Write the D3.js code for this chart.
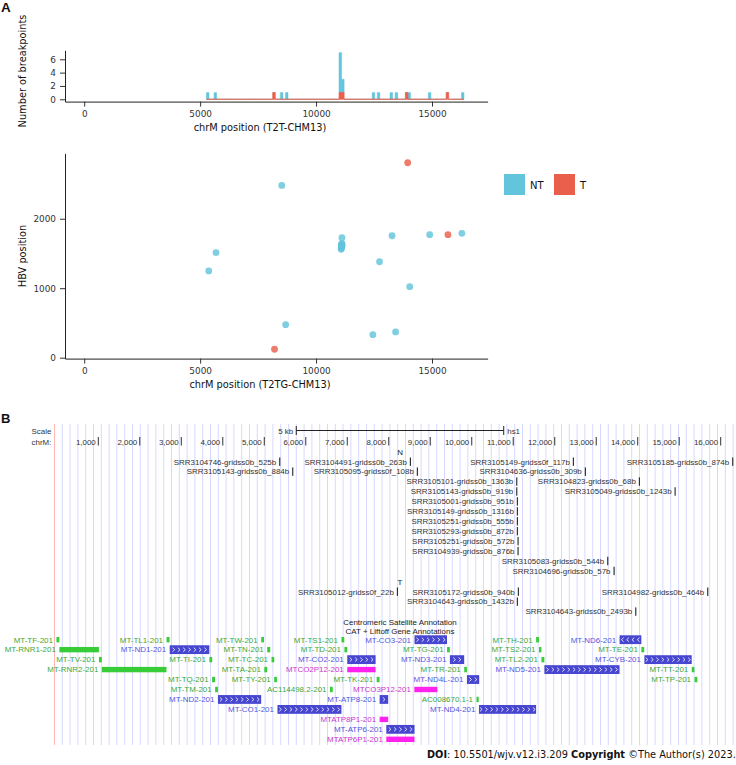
<!DOCTYPE html>
<html><head><meta charset="utf-8">
<script src="https://cdn.jsdelivr.net/npm/d3@7"></script>
<style>body{margin:0;background:#fff} svg{display:block}</style>
</head><body>
<svg id="c" width="736" height="765"></svg>
<script>
// ---------------- DATA ----------------
const groups = ["NT", "T"];
const bpLabel = [
  "SRR3104746-gridss0b_525b","SRR3105143-gridss0b_884b","SRR3104491-gridss0b_263b","SRR3105095-gridss0f_108b",
  "SRR3105101-gridss0b_1363b","SRR3105143-gridss0b_919b","SRR3105001-gridss0b_951b","SRR3105149-gridss0b_1316b",
  "SRR3105251-gridss0b_555b","SRR3105293-gridss0b_872b","SRR3105251-gridss0b_572b","SRR3104939-gridss0b_876b",
  "SRR3105149-gridss0f_117b","SRR3104636-gridss0b_309b","SRR3105083-gridss0b_544b","SRR3104696-gridss0b_57b",
  "SRR3104823-gridss0b_68b","SRR3105049-gridss0b_1243b","SRR3105185-gridss0b_874b",
  "SRR3105012-gridss0f_22b","SRR3105172-gridss0b_940b","SRR3104643-gridss0b_1432b","SRR3104643-gridss0b_2493b",
  "SRR3104982-gridss0b_464b"];
const bpGroup = ["NT","NT","NT","NT","NT","NT","NT","NT","NT","NT","NT","NT","NT","NT","NT","NT","NT","NT","NT",
  "T","T","T","T","T"];
const bpPos = [5372,5685,8520,8688,11084,11084,11098,11098,11098,11098,11115,11115,12448,12737,13277,13429,14039,14900,16289,
  8207,11122,11098,13952,15687];
const bpHbv = [1248,1511,2480,475,1560,1575,1590,1600,1615,1630,1645,1727,331,1381,1755,370,1022,1770,1790,
  121,1620,1605,2806,1770];
const bpLane = [0,1,0,1,2,3,4,5,6,7,8,9,0,1,10,11,2,3,0, 0,0,1,2,0];

const chrMLength = 16569;
const histBinWidth = 110, histBinBoundary = 11100;
const histYTicks = [0,2,4,6];
const posTicks = [0,5000,10000,15000];
const hbvTicks = [0,1000,2000];
const rulerTicks = [1000,2000,3000,4000,5000,6000,7000,8000,9000,10000,11000,12000,13000,14000,15000,16000];
const scaleBarBp = 5000;

const geneName = ["MT-TF-201","MT-RNR1-201","MT-TV-201","MT-RNR2-201","MT-TL1-201","MT-ND1-201","MT-TI-201","MT-TQ-201",
  "MT-TM-201","MT-ND2-201","MT-TW-201","MT-TA-201","MT-TN-201","MT-TC-201","MT-TY-201","MT-CO1-201","MT-TS1-201",
  "MT-TD-201","MT-CO2-201","MTCO2P12-201","AC114498.2-201","MT-TK-201","MT-ATP8-201","MTATP8P1-201","MT-ATP6-201",
  "MTATP6P1-201","MT-CO3-201","MTCO3P12-201","MT-TG-201","MT-ND3-201","MT-TR-201","MT-ND4L-201","AC008670.1-1",
  "MT-ND4-201","MT-TH-201","MT-TS2-201","MT-TL2-201","MT-ND5-201","MT-ND6-201","MT-TE-201","MT-CYB-201","MT-TT-201","MT-TP-201"];
const geneStart = [-9,62,1016,1085,2644,2721,3677,3743,3816,3884,4926,5001,5071,5175,5240,5318,6860,6932,7000,7000,6584,7709,
  7780,7780,7941,7941,8621,8616,9405,9473,9819,9884,10115,10174,11552,11621,11680,11751,13563,14088,14161,15302,15370];
const geneEnd = [61,1015,1084,2643,2718,3676,3745,3814,3883,4925,4993,5069,5143,5240,5305,6859,6928,6999,7683,7683,6650,7778,
  7986,7986,8621,8621,9404,9170,9472,9818,9883,10180,10150,11551,11620,11679,11750,13562,14087,14156,15301,15367,15437];
const geneType = ["nc","nc","nc","nc","nc","pc","nc","nc","nc","pc","nc","nc","nc","nc","nc","pc","nc","nc","pc","ps","nc","nc",
  "pc","ps","pc","ps","pc","ps","nc","pc","nc","pc","nc","pc","nc","nc","nc","pc","pc","nc","pc","nc","nc"];
const geneStrand = ["+","+","+","+","+","+","+","+","+","+","+","+","+","+","+","+","+","+","+","+","+","+","+","+","+","+",
  "+","+","+","+","+","+","+","+","+","+","+","+","-","+","+","+","+"];
const geneLane = [0,1,2,3,0,1,2,4,5,6,0,3,1,2,4,7,0,1,2,3,5,4,6,8,9,10,0,5,1,2,3,4,6,7,0,1,2,3,0,1,2,3,4];

// ---------------- STYLE ----------------
const colGroup = {NT:"#62C5DC", T:"#EA5F4C"};
const geneFill = {nc:"#38cc38", pc:"#4646d0", ps:"#ff22ee"};
const geneText = {nc:"#3aa83a", pc:"#5555dd", ps:"#cc33cc"};
const F1 = "DejaVu Sans", F2 = "Liberation Sans";
const svg = d3.select("#c");
const bp = bpPos.map((p,i)=>({pos:p, hbv:bpHbv[i], g:bpGroup[i], label:bpLabel[i], lane:bpLane[i]}));

// panel letters
svg.append("text").attr("x",1).attr("y",12).text("A").attr("font-family",F2).attr("font-weight","bold").attr("font-size",13.5).attr("fill","#111");
svg.append("text").attr("x",1).attr("y",423).text("B").attr("font-family",F2).attr("font-weight","bold").attr("font-size",13).attr("fill","#111");

// ---------------- A: histogram ----------------
const xlimExp = [0 - 0.05*chrMLength, chrMLength*1.05];
const xA = d3.scaleLinear().domain(xlimExp).range([65, 487.6]);
const yH = d3.scaleLinear().domain([-0.35, 7.35]).range([101.6, 50.3]);

const mn = d3.min(bpPos), mx = d3.max(bpPos);
const lo = histBinBoundary + Math.floor((mn - histBinBoundary)/histBinWidth)*histBinWidth;
const hi = histBinBoundary + Math.ceil((mx - histBinBoundary + 1)/histBinWidth)*histBinWidth;
const bins = d3.bin().value(d=>d.pos).domain([lo,hi]).thresholds(d3.range(lo+histBinWidth, hi, histBinWidth))(bp);

const gH = svg.append("g");
function barPath(x0,x1,y0,y1){return `M${x0},${y0}H${x1}V${y1}H${x0}Z`;}
// NT stacked on top of T
bins.forEach(b=>{
  const cT = b.filter(d=>d.g==="T").length, cN = b.filter(d=>d.g==="NT").length;
  gH.append("path").attr("d",barPath(xA(b.x0),xA(b.x1),yH(cT),yH(cT+cN)))
    .attr("fill",colGroup.NT).attr("stroke",colGroup.NT).attr("stroke-width",0.5);
});
bins.forEach(b=>{
  const cT = b.filter(d=>d.g==="T").length;
  gH.append("path").attr("d",barPath(xA(b.x0),xA(b.x1),yH(0),yH(cT)))
    .attr("fill",colGroup.T).attr("stroke",colGroup.T).attr("stroke-width",0.7);
});

function styleAxis(g){
  g.attr("font-family",F1).attr("font-size",8.9);
  g.select("path.domain").attr("stroke","#222").attr("stroke-width",1);
  g.selectAll(".tick line").attr("stroke","#333").attr("stroke-width",1);
  g.selectAll(".tick text").attr("fill","#333");
}
svg.append("g").attr("transform",`translate(65,0)`)
  .call(d3.axisLeft(yH).tickValues(histYTicks).tickSize(5).tickSizeOuter(0).tickPadding(4)).call(styleAxis);
svg.append("g").attr("transform",`translate(0,${yH.range()[0]})`)
  .call(d3.axisBottom(xA).tickValues(posTicks).tickFormat(d3.format("d")).tickSize(5).tickSizeOuter(0).tickPadding(4)).call(styleAxis);
svg.append("text").attr("x",260).attr("y",130.5).attr("text-anchor","middle").attr("font-family",F1).attr("font-size",9.8).attr("fill","#111")
  .text("chrM position (T2T-CHM13)");
svg.append("text").attr("transform","translate(26,71) rotate(-90)").attr("text-anchor","middle").attr("font-family",F1).attr("font-size",9.8).attr("fill","#111")
  .text("Number of breakpoints");

// ---------------- A: scatter ----------------
const hbvExt = d3.extent(bpHbv), hr = hbvExt[1]-hbvExt[0];
const yS = d3.scaleLinear().domain([hbvExt[0]-0.05*hr, hbvExt[1]+0.05*hr]).range([358.6, 153.4]);
const gS = svg.append("g");
["T","NT"].forEach(gr=>{
  gS.selectAll(null).data(bp.filter(d=>d.g===gr)).enter().append("circle")
    .attr("cx",d=>xA(d.pos)).attr("cy",d=>yS(d.hbv)).attr("r",3.4)
    .attr("fill",colGroup[gr]).attr("fill-opacity",0.82);
});
svg.append("g").attr("transform",`translate(65,0)`)
  .call(d3.axisLeft(yS).tickValues(hbvTicks).tickFormat(d3.format("d")).tickSize(5).tickSizeOuter(0).tickPadding(4)).call(styleAxis);
svg.append("g").attr("transform",`translate(0,${yS.range()[0]})`)
  .call(d3.axisBottom(xA).tickValues(posTicks).tickFormat(d3.format("d")).tickSize(5).tickSizeOuter(0).tickPadding(4)).call(styleAxis);
svg.append("text").attr("x",260).attr("y",388).attr("text-anchor","middle").attr("font-family",F1).attr("font-size",9.8).attr("fill","#111")
  .text("chrM position (T2TG-CHM13)");
svg.append("text").attr("transform",`translate(26,${(yS.range()[0]+yS.range()[1])/2}) rotate(-90)`).attr("text-anchor","middle")
  .attr("font-family",F1).attr("font-size",9.8).attr("fill","#111").text("HBV position");
// legend
const leg = svg.append("g").attr("transform","translate(504,174)");
groups.forEach((gr,i)=>{
  const gx = i*50;
  leg.append("rect").attr("x",gx).attr("y",0).attr("width",21).attr("height",21).attr("fill",colGroup[gr]);
  leg.append("text").attr("x",gx+26).attr("y",14.5).text(gr).attr("font-family",F1).attr("font-size",10).attr("fill","#111");
});

// ---------------- B: browser ----------------
const xB = d3.scaleLinear().domain([1000,16000]).range([98.3,720.7]);
const gB = svg.append("g");
// guidelines
const guideX = d3.range(62.3, 736, 7.8);
gB.selectAll(null).data(guideX).enter().append("line")
  .attr("x1",d=>d).attr("x2",d=>d).attr("y1",424).attr("y2",745).attr("stroke","#d8d8ff").attr("stroke-width",1);
gB.append("line").attr("x1",54.5).attr("x2",54.5).attr("y1",424).attr("y2",745).attr("stroke","#ffb8b8").attr("stroke-width",1);

const ucsc = (sel,size)=>sel.attr("font-family",F2).attr("font-size",size||7.95);
ucsc(gB.append("text").attr("x",31.5).attr("y",433.5).text("Scale").attr("fill","#333"));
ucsc(gB.append("text").attr("x",31.5).attr("y",444.5).text("chrM:").attr("fill","#333"));
// scale bar
const sbW = xB(scaleBarBp) - xB(0), sbC = 400;
gB.append("line").attr("x1",sbC-sbW/2).attr("x2",sbC+sbW/2).attr("y1",430.5).attr("y2",430.5).attr("stroke","#222");
[sbC-sbW/2, sbC+sbW/2].forEach(x=>gB.append("line").attr("x1",x).attr("x2",x).attr("y1",426).attr("y2",435).attr("stroke","#222"));
ucsc(gB.append("text").attr("x",sbC-sbW/2-3).attr("y",433.5).attr("text-anchor","end").text(d3.format("d")(scaleBarBp/1000)+" kb").attr("fill","#333"));
ucsc(gB.append("text").attr("x",sbC+sbW/2+3.5).attr("y",433.5).text("hs1").attr("fill","#333"));
// ruler
rulerTicks.forEach(t=>{
  gB.append("rect").attr("x",xB(t)-0.5).attr("y",437).attr("width",1).attr("height",8.5).attr("fill","#333");
  ucsc(gB.append("text").attr("x",xB(t)-2.5).attr("y",444.5).attr("text-anchor","end").text(d3.format(",")(t)).attr("fill","#333"));
});

// breakpoint tracks
const rowStep = 9.93;
const trackTop = {NT:461.7, T:591.7}, trackTitle = {NT:"N", T:"T"};
groups.forEach(gr=>{
  ucsc(gB.append("text").attr("x",400).attr("y",trackTop[gr]-6.5).attr("text-anchor","middle").text(trackTitle[gr]).attr("fill","#222"));
  bp.filter(d=>d.g===gr).forEach(d=>{
    const cy = trackTop[gr] + d.lane*rowStep, x = xB(d.pos);
    gB.append("rect").attr("x",x-0.5).attr("y",cy-4.2).attr("width",1.1).attr("height",8.4).attr("fill","#222");
    ucsc(gB.append("text").attr("x",x-3.5).attr("y",cy+2.8).attr("text-anchor","end").text(d.label).attr("fill","#333"));
  });
});
ucsc(gB.append("text").attr("x",400).attr("y",625).attr("text-anchor","middle").text("Centromeric Satellite Annotation").attr("fill","#222"));
ucsc(gB.append("text").attr("x",400).attr("y",634).attr("text-anchor","middle").text("CAT + Liftoff Gene Annotations").attr("fill","#222"));

// genes
const geneTop = 639.7, geneStep = 9.96;
geneName.forEach((nm,i)=>{
  const t = geneType[i], cy = geneTop + geneLane[i]*geneStep;
  const x0 = xB(geneStart[i]), x1 = Math.max(xB(geneEnd[i]), x0+2.2);
  const h = t==="pc" ? 8.8 : 5.4;
  gB.append("rect").attr("x",x0).attr("y",cy-h/2).attr("width",x1-x0).attr("height",h).attr("fill",geneFill[t]);
  if(t==="pc"){
    const n = Math.max(1, Math.floor((x1-x0-4)/5.3)+1);
    const span = (n-1)*5.3, start = (x0+x1)/2 - span/2;
    for(let k=0;k<n;k++){
      const cx = start + k*5.3, s = geneStrand[i]==="+" ? 1 : -1;
      gB.append("path").attr("d",`M${cx-1.1*s},${cy-2}L${cx+1.1*s},${cy}L${cx-1.1*s},${cy+2}`)
        .attr("fill","none").attr("stroke","#fff").attr("stroke-width",0.8);
    }
  }
  ucsc(gB.append("text").attr("x",x0-3.5).attr("y",cy+2.8).attr("text-anchor","end").text(nm).attr("fill",geneText[t]));
});

// footer
const foot = svg.append("text").attr("x",427).attr("y",758).attr("font-family",F1).attr("font-size",10.5).attr("fill","#111");
foot.append("tspan").attr("font-weight","bold").text("DOI");
foot.append("tspan").text(": 10.5501/wjv.v12.i3.209 ");
foot.append("tspan").attr("font-weight","bold").text("Copyright");
foot.append("tspan").text(" ©The Author(s) 2023.");
const fw = foot.node().getComputedTextLength();
foot.attr("font-size", 10.5*309/fw);
</script>
</body></html>
